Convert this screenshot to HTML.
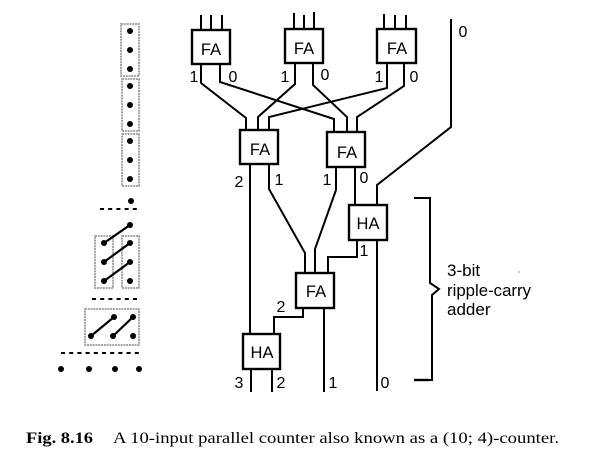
<!DOCTYPE html>
<html><head><meta charset="utf-8"><style>
html,body{margin:0;padding:0;background:#fff}
svg{display:block}
text{font-family:"Liberation Sans",sans-serif;fill:#000}
.d{font-size:16px;text-anchor:middle}
.b{font-size:16.5px;text-anchor:middle}
.t{font-size:17px}
.c{font-family:"Liberation Serif",serif;font-size:16px}
</style></head><body>
<svg width="607" height="463" viewBox="0 0 607 463" xmlns="http://www.w3.org/2000/svg">
<rect width="607" height="463" fill="#fff"/>
<g fill="none" stroke="#999" stroke-width="1.8" stroke-dasharray="2 0.8">
<rect x="121" y="24" width="18" height="52"/>
<rect x="122" y="79" width="17" height="52"/>
<rect x="122" y="134" width="17" height="52"/>
<rect x="95" y="236" width="18" height="52"/>
<rect x="122" y="236" width="17" height="52"/>
<rect x="85" y="309" width="54" height="36"/>
</g>
<g stroke="#000" stroke-width="2" stroke-dasharray="4 4.2">
<line x1="100" y1="209" x2="139" y2="209"/>
<line x1="92" y1="299" x2="139" y2="299"/>
<line x1="61" y1="353" x2="141" y2="353"/>
</g>
<g stroke="#000" stroke-width="2.2">
<line x1="104" y1="243" x2="130" y2="225"/>
<line x1="104" y1="262" x2="130" y2="243"/>
<line x1="104" y1="281" x2="130" y2="262"/>
<line x1="91" y1="336" x2="114" y2="317"/>
<line x1="113" y1="336" x2="133" y2="317"/>
</g>
<g fill="#000">
<circle cx="130" cy="31" r="3"/><circle cx="130" cy="50" r="3"/><circle cx="130" cy="69" r="3"/>
<circle cx="130" cy="86" r="3"/><circle cx="130" cy="105" r="3"/><circle cx="130" cy="124" r="3"/>
<circle cx="130" cy="141" r="3"/><circle cx="130" cy="160" r="3"/><circle cx="130" cy="179" r="3"/>
<circle cx="131" cy="201" r="3"/>
<circle cx="130" cy="225" r="3"/><circle cx="104" cy="243" r="3"/><circle cx="130" cy="243" r="3"/>
<circle cx="104" cy="262" r="3"/><circle cx="130" cy="262" r="3"/><circle cx="104" cy="281" r="3"/><circle cx="130" cy="281" r="3"/>
<circle cx="114" cy="317" r="3"/><circle cx="133" cy="317" r="3"/><circle cx="91" cy="336" r="3"/><circle cx="113" cy="336" r="3"/><circle cx="133" cy="336" r="3"/>
<circle cx="61" cy="369" r="3"/><circle cx="89" cy="369" r="3"/><circle cx="115" cy="369" r="3"/><circle cx="139" cy="369" r="3"/>
</g>
<g fill="none" stroke="#000" stroke-width="2">
<path d="M201 15V30M211 15V30M222 15V30"/>
<path d="M294 13V29M304 15V29M314 12V29"/>
<path d="M384 14V29M395 15V29M406 15V29"/>
<path d="M201 64V83L246 118V130"/>
<path d="M220 64V82L334 119V132"/>
<path d="M295 63V84L258 117V130"/>
<path d="M313 63V85L347 117V132"/>
<path d="M387 63V88L269 117V130"/>
<path d="M404 63V86L357 117V132"/>
<path d="M451 19V127L377 185V205"/>
<path d="M250 164V334"/>
<path d="M269 164V189L305 253V273"/>
<path d="M336 167V190L315 249V273"/>
<path d="M355 167V205"/>
<path d="M357 240V257H328V273"/>
<path d="M377 240V391"/>
<path d="M324 308V392"/>
<path d="M303 308V317H274V334"/>
<path d="M251 369V392M272 369V392"/>
<path d="M414 198H430V283L439 289L432 295V380H428"/>
<path d="M414 380H429" stroke-width="2.4"/>
</g>
<g fill="#fff" stroke="#000" stroke-width="2.4">
<rect x="192" y="30" width="38" height="34"/>
<rect x="285" y="29" width="38" height="34"/>
<rect x="377" y="29" width="39" height="34"/>
<rect x="240" y="130" width="38" height="34"/>
<rect x="327" y="132" width="38" height="35"/>
<rect x="349" y="205" width="38" height="35"/>
<rect x="296" y="273" width="38" height="35"/>
<rect x="243" y="334" width="37" height="35"/>
</g>
<text class="b" x="211" y="55">FA</text>
<text class="b" x="304" y="54">FA</text>
<text class="b" x="397" y="54">FA</text>
<text class="b" x="260" y="155">FA</text>
<text class="b" x="347" y="158">FA</text>
<text class="b" x="368" y="229">HA</text>
<text class="b" x="316" y="297">FA</text>
<text class="b" x="262" y="358">HA</text>
<text class="d" x="194" y="82">1</text>
<text class="d" x="233" y="82">0</text>
<text class="d" x="285" y="82">1</text>
<text class="d" x="325" y="80">0</text>
<text class="d" x="379" y="82">1</text>
<text class="d" x="414" y="82">0</text>
<text class="d" x="463" y="37">0</text>
<text class="d" x="239" y="187">2</text>
<text class="d" x="279" y="185">1</text>
<text class="d" x="327" y="185">1</text>
<text class="d" x="364" y="183">0</text>
<text class="d" x="364" y="256">1</text>
<text class="d" x="281" y="312">2</text>
<text class="d" x="239" y="388">3</text>
<text class="d" x="281" y="388">2</text>
<text class="d" x="333" y="388">1</text>
<text class="d" x="385" y="388">0</text>
<text class="t" x="447" y="276">3-bit</text>
<text class="t" x="447" y="296" textLength="84" lengthAdjust="spacingAndGlyphs">ripple-carry</text>
<text class="t" x="447" y="315">adder</text>
<circle cx="519" cy="272" r="0.6" fill="#555"/>
<text class="c" x="26" y="443" font-weight="bold" textLength="67" lengthAdjust="spacingAndGlyphs">Fig. 8.16</text>
<text class="c" x="113" y="443" textLength="446" lengthAdjust="spacingAndGlyphs">A 10-input parallel counter also known as a (10; 4)-counter.</text>
</svg>
</body></html>
